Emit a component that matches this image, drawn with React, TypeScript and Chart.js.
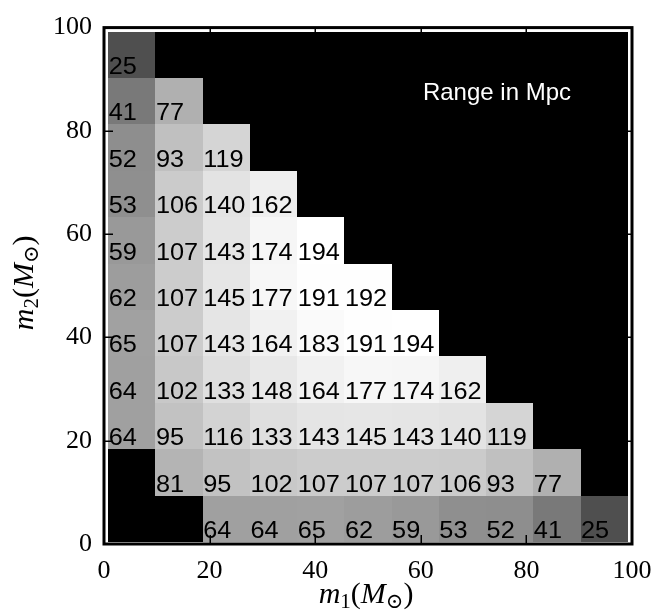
import { useEffect, useRef } from 'react';
import { Chart, registerables } from 'chart.js';

Chart.register(...registerables);

// ---- data ----
// Rows indexed by m2 bin (bottom to top), columns by m1 bin (left to right); null = no value (black)
const m2Row0: (number | null)[] = [null, null, 64, 64, 65, 62, 59, 53, 52, 41, 25];
const m2Row1: (number | null)[] = [null, 81, 95, 102, 107, 107, 107, 106, 93, 77, null];
const m2Row2: (number | null)[] = [64, 95, 116, 133, 143, 145, 143, 140, 119, null, null];
const m2Row3: (number | null)[] = [64, 102, 133, 148, 164, 177, 174, 162, null, null, null];
const m2Row4: (number | null)[] = [65, 107, 143, 164, 183, 191, 194, null, null, null, null];
const m2Row5: (number | null)[] = [62, 107, 145, 177, 191, 192, null, null, null, null, null];
const m2Row6: (number | null)[] = [59, 107, 143, 174, 194, null, null, null, null, null, null];
const m2Row7: (number | null)[] = [53, 106, 140, 162, null, null, null, null, null, null, null];
const m2Row8: (number | null)[] = [52, 93, 119, null, null, null, null, null, null, null, null];
const m2Row9: (number | null)[] = [41, 77, null, null, null, null, null, null, null, null, null];
const m2Row10: (number | null)[] = [25, null, null, null, null, null, null, null, null, null, null];
const rangeTable = [m2Row0, m2Row1, m2Row2, m2Row3, m2Row4, m2Row5, m2Row6, m2Row7, m2Row8, m2Row9, m2Row10];

const axisTicks = [0, 20, 40, 60, 80, 100];
const annotationText = 'Range in Mpc';

// ---- styling constants ----
const BIN_COUNT = 11;
const EXT_X: [number, number] = [0.8, 99.2];
const EXT_Y: [number, number] = [0.4, 99.2];
const NORM_MIN = 10;
const NORM_MAX = 194;
const SERIF = "'Liberation Serif', 'DejaVu Serif', serif";
const SANS = "'Liberation Sans', Arial, Helvetica, sans-serif";
const NUM_STRETCH = 1.1;

function grayFor(v: number): string {
  let t = Math.log(v / NORM_MIN) / Math.log(NORM_MAX / NORM_MIN);
  t = Math.max(0, Math.min(1, t));
  const g = Math.round(t * 255);
  return `rgb(${g},${g},${g})`;
}

type Seg = { t: string; italic?: boolean; sub?: boolean };

function drawMath(ctx: CanvasRenderingContext2D, segs: Seg[], fs: number, cx: number, baseline: number) {
  const fontFor = (s: Seg) => `${s.italic ? 'italic ' : ''}${s.sub ? Math.round(fs * 0.7) : fs}px ${SERIF}`;
  let total = 0;
  const widths = segs.map((s) => {
    ctx.font = fontFor(s);
    const w = ctx.measureText(s.t).width;
    total += w;
    return w;
  });
  let xPos = cx - total / 2;
  ctx.textBaseline = 'alphabetic';
  ctx.textAlign = 'left';
  segs.forEach((s, i) => {
    ctx.font = fontFor(s);
    ctx.fillText(s.t, xPos, baseline + (s.sub ? fs * 0.17 : 0));
    xPos += widths[i];
  });
}

const heatmapPlugin = {
  id: 'heatmapCells',
  beforeDatasetsDraw(chart: any) {
    const { ctx, scales } = chart;
    const x = scales.x;
    const y = scales.y;
    ctx.save();
    const px = (v: number) => Math.round(x.getPixelForValue(v));
    const py = (v: number) => Math.round(y.getPixelForValue(v));
    // masked background
    ctx.fillStyle = '#000';
    ctx.fillRect(px(EXT_X[0]), py(EXT_Y[1]), px(EXT_X[1]) - px(EXT_X[0]), py(EXT_Y[0]) - py(EXT_Y[1]));
    const cw = (EXT_X[1] - EXT_X[0]) / BIN_COUNT;
    const ch = (EXT_Y[1] - EXT_Y[0]) / BIN_COUNT;
    rangeTable.forEach((row, j) => {
      row.forEach((v, i) => {
        if (v == null) return;
        const l = px(EXT_X[0] + i * cw);
        const r = px(EXT_X[0] + (i + 1) * cw);
        const b = py(EXT_Y[0] + j * ch);
        const t = py(EXT_Y[0] + (j + 1) * ch);
        ctx.fillStyle = grayFor(v);
        ctx.fillRect(l, t, r - l, b - t);
      });
    });
    ctx.fillStyle = '#000';
    ctx.font = `23px ${SANS}`;
    ctx.textAlign = 'left';
    ctx.textBaseline = 'alphabetic';
    rangeTable.forEach((row, j) => {
      row.forEach((v, i) => {
        if (v == null) return;
        const l = x.getPixelForValue(EXT_X[0] + i * cw);
        const b = y.getPixelForValue(EXT_Y[0] + j * ch);
        ctx.save();
        ctx.translate(l + 0.5, b - 4);
        ctx.scale(NUM_STRETCH, 1);
        ctx.fillText(String(v), 0, 0);
        ctx.restore();
      });
    });
    // annotation
    ctx.fillStyle = '#fff';
    ctx.font = `24px ${SANS}`;
    ctx.fillText(annotationText, x.getPixelForValue(60.4), y.getPixelForValue(85.9));
    ctx.restore();
  },
  afterDraw(chart: any) {
    const { ctx, chartArea, scales } = chart;
    const x = scales.x;
    const y = scales.y;
    const { left, right, top, bottom } = chartArea;
    ctx.save();
    ctx.strokeStyle = '#000';
    ctx.lineWidth = 1.5;
    const TL = 9;
    ctx.beginPath();
    axisTicks.forEach((tv) => {
      const xp = Math.round(x.getPixelForValue(tv)) + 0.25;
      ctx.moveTo(xp, bottom);
      ctx.lineTo(xp, bottom - TL);
      ctx.moveTo(xp, top);
      ctx.lineTo(xp, top + TL);
      const yp = Math.round(y.getPixelForValue(tv)) + 0.25;
      ctx.moveTo(left, yp);
      ctx.lineTo(left + TL, yp);
      ctx.moveTo(right, yp);
      ctx.lineTo(right - TL, yp);
    });
    ctx.stroke();
    ctx.lineWidth = 3;
    ctx.strokeRect(left, top, right - left, bottom - top);
    // axis titles
    ctx.fillStyle = '#000';
    const fs = 30;
    drawMath(
      ctx,
      [{ t: 'm', italic: true }, { t: '1', sub: true }, { t: '(' }, { t: 'M', italic: true }, { t: '⊙', sub: true }, { t: ')' }],
      fs,
      (left + right) / 2 - 2,
      603
    );
    ctx.translate(33, (top + bottom) / 2 - 3);
    ctx.rotate(-Math.PI / 2);
    drawMath(
      ctx,
      [{ t: 'm', italic: true }, { t: '2', sub: true }, { t: '(' }, { t: 'M', italic: true }, { t: '⊙', sub: true }, { t: ')' }],
      fs,
      0,
      0
    );
    ctx.restore();
  },
};

export default function App() {
  const canvasRef = useRef<HTMLCanvasElement | null>(null);
  useEffect(() => {
    document.body.style.margin = '0';
    const canvas = canvasRef.current;
    if (!canvas) return;
    const tickFont = { family: SERIF, size: 26 };
    const chart = new Chart(canvas, {
      type: 'scatter',
      data: { datasets: [{ data: [], pointRadius: 0 }] },
      options: {
        animation: false,
        responsive: true,
        maintainAspectRatio: false,
        layout: { padding: { top: 18, right: 33, bottom: 0, left: 0 } },
        plugins: { legend: { display: false }, tooltip: { enabled: false } },
        scales: {
          x: {
            type: 'linear',
            min: 0,
            max: 100,
            afterBuildTicks: (s: any) => {
              s.ticks = axisTicks.map((v) => ({ value: v }));
            },
            afterFit: (s: any) => {
              s.height = 70;
            },
            ticks: { font: tickFont, color: '#000', padding: 12, maxRotation: 0, autoSkip: false },
            grid: { display: false, drawTicks: false },
            border: { display: false },
          },
          y: {
            type: 'linear',
            min: 0,
            max: 100,
            afterBuildTicks: (s: any) => {
              s.ticks = axisTicks.map((v) => ({ value: v }));
            },
            afterFit: (s: any) => {
              s.width = 104;
            },
            ticks: { font: tickFont, color: '#000', padding: 12, autoSkip: false },
            grid: { display: false, drawTicks: false },
            border: { display: false },
          },
        },
      },
      plugins: [heatmapPlugin],
    } as any);
    return () => chart.destroy();
  }, []);
  return (
    <div style={{ position: 'absolute', left: 0, top: 0, width: 665, height: 614, background: '#fff' }}>
      <canvas ref={canvasRef} />
    </div>
  );
}
